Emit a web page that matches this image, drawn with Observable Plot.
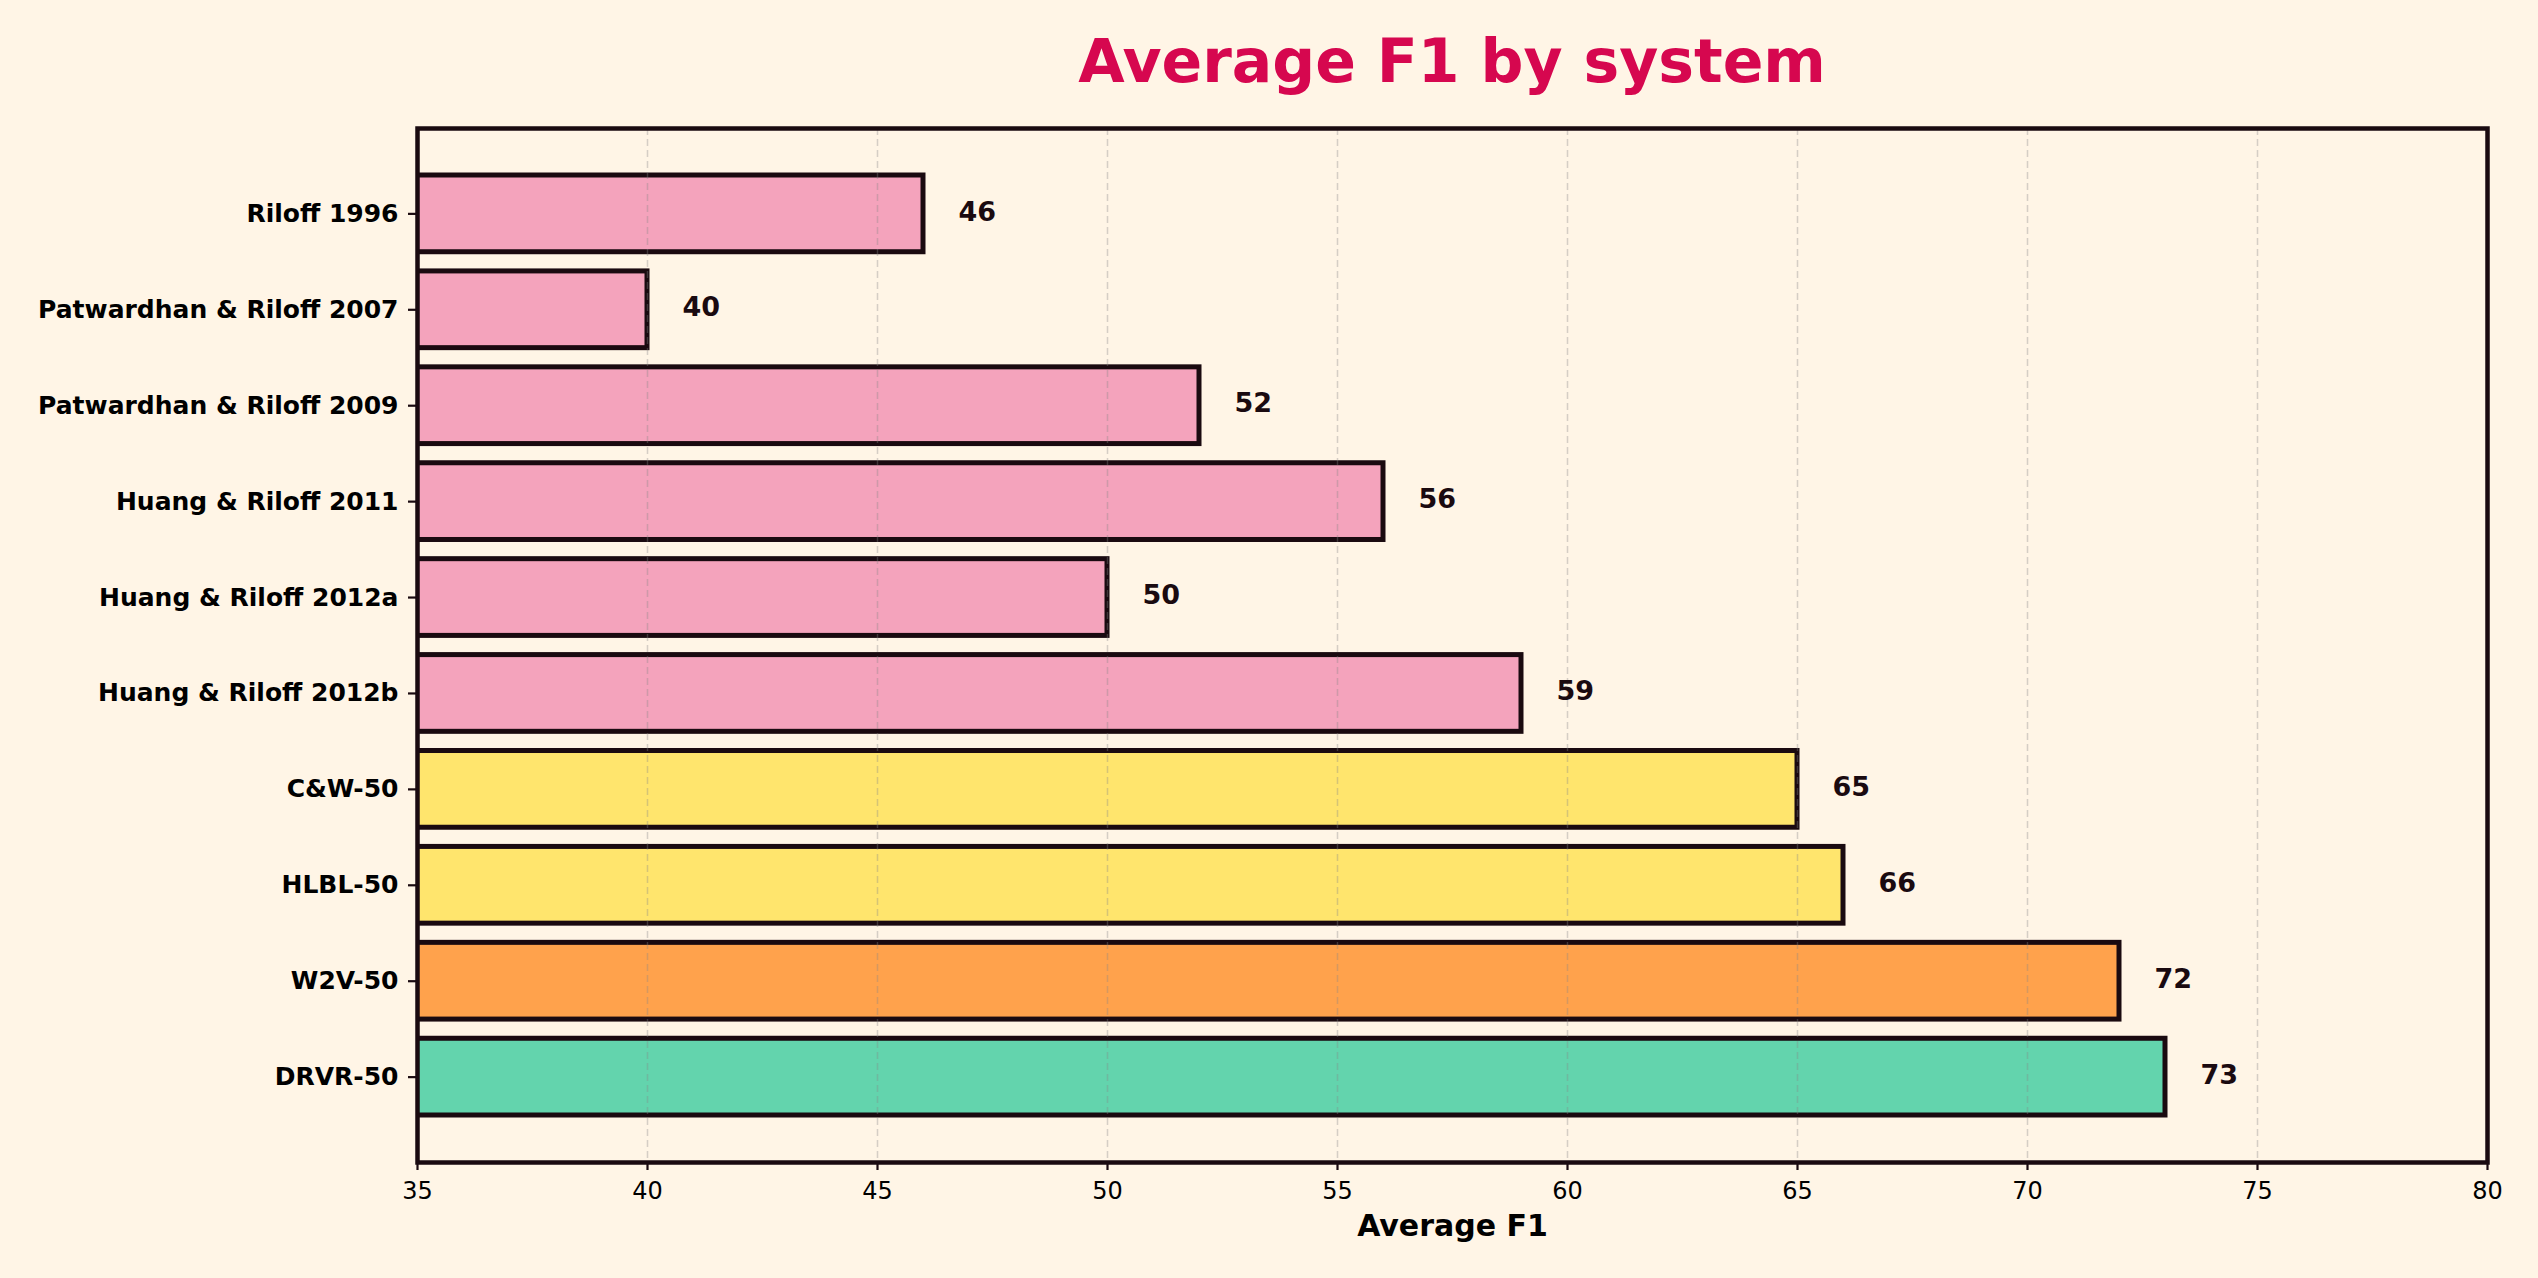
<!DOCTYPE html>
<html><head><meta charset="utf-8">
<script src="https://cdn.jsdelivr.net/npm/d3@7"></script>
<script src="https://cdn.jsdelivr.net/npm/@observablehq/plot@0.6"></script>
<style>
html,body{margin:0;padding:0;background:#FFF5E6;}
#title{height:122px;line-height:122px;margin:0;padding:0 51px 0 417px;text-align:center;font-family:"DejaVu Sans";font-weight:bold;font-size:60px;color:#D6074F;white-space:nowrap;}
#chart svg{display:block;}
</style></head><body>
<div id="title">Average F1 by system</div>
<div id="chart"></div>
<script>
const systems = ["Riloff 1996","Patwardhan & Riloff 2007","Patwardhan & Riloff 2009","Huang & Riloff 2011","Huang & Riloff 2012a","Huang & Riloff 2012b","C&W-50","HLBL-50","W2V-50","DRVR-50"];
const f1 = [46,40,52,56,50,59,65,66,72,73];
const groups = ["prior","prior","prior","prior","prior","prior","embedding","embedding","word2vec","drvr"];
const groupNames = ["prior","embedding","word2vec","drvr"];
const groupColors = ["#F4A3BC","#FFE56D","#FFA24C","#63D4AD"];
const xTicks = [35,40,45,50,55,60,65,70,75,80];
const xLabel = "Average F1";

const data = systems.map((s,i)=>({system:s, f1:f1[i], group:groups[i]}));
const ink = "#1A0A10";

const chart = Plot.plot({
  width: 2538, height: 1156,
  marginLeft: 417, marginRight: 51, marginTop: 6, marginBottom: 116,
  style: {background:"transparent", fontFamily:"DejaVu Sans", color:"#000", overflow:"visible"},
  x: {domain:[35,80], label:null},
  y: {domain: systems, paddingInner:0.2, paddingOuter:0.49, round:false, label:null},
  color: {domain: groupNames, range: groupColors},
  marks: [
    Plot.barX(data, {x:"f1", y:"system", fill:"group", stroke:ink, strokeWidth:5, clip:true}),
    Plot.gridX(xTicks, {stroke:"#888", strokeOpacity:0.35, strokeWidth:1.5, strokeDasharray:"7,4"}),
    Plot.axisX({ticks:xTicks, tickSize:8, tickPadding:11, fontSize:24, stroke:ink, strokeWidth:2.2, fill:"#000", label:null}),
    Plot.axisY({tickSize:9, tickPadding:10, fontSize:25, fontWeight:"bold", stroke:ink, strokeWidth:2.2, fill:"#000", label:null}),
    Plot.text(data, {x:"f1", y:"system", text:d=>String(d.f1), dx:35, dy:-2, textAnchor:"start", fontSize:27, fontWeight:"bold", fill:ink}),
    Plot.text([xLabel], {frameAnchor:"bottom", dy:73, fontSize:30, fontWeight:"bold", fill:"#000"}),
    Plot.frame({stroke:ink, strokeWidth:4.5})
  ]
});
document.getElementById("chart").appendChild(chart);
</script>
</body></html>
